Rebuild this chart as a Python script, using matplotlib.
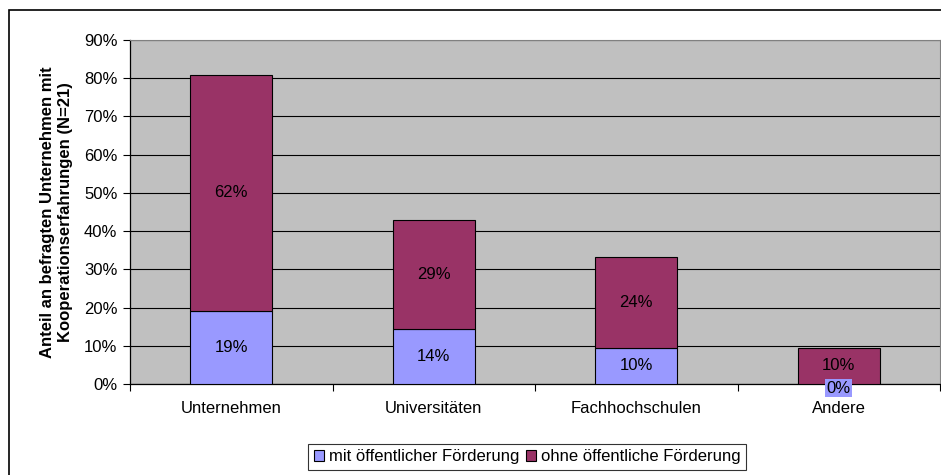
import matplotlib.pyplot as plt
import matplotlib.patches as mpatches
import numpy as np

plt.rcParams['font.family'] = ['Liberation Sans', 'DejaVu Sans']

categories = ['Unternehmen', 'Universitäten', 'Fachhochschulen', 'Andere']
mit_foerderung = [19.05, 14.29, 9.52, 0.0]
ohne_foerderung = [61.90, 28.57, 23.81, 9.52]
series_names = ['mit öffentlicher Förderung', 'ohne öffentliche Förderung']
y_ticks = [0, 10, 20, 30, 40, 50, 60, 70, 80, 90]

col_mit = '#9999FF'
col_ohne = '#993366'
fs = 12

fig = plt.figure(figsize=(9.41, 4.75), dpi=100)
ax = fig.add_axes([130 / 941, 1 - 384 / 475, 810 / 941, 344 / 475])
ax.set_facecolor('#C0C0C0')

x = np.arange(len(categories))
b1 = ax.bar(x, mit_foerderung, 0.405, color=col_mit, edgecolor='black', linewidth=0.8,
            label=series_names[0], zorder=3)
b2 = ax.bar(x, ohne_foerderung, 0.405, bottom=mit_foerderung, color=col_ohne,
            edgecolor='black', linewidth=0.8, label=series_names[1], zorder=3)

# value labels in the middle of each segment
for i in range(len(categories)):
    lo = mit_foerderung[i]
    hi = ohne_foerderung[i]
    if lo > 0:
        ax.text(x[i], lo / 2, f'{lo:.0f}%', ha='center', va='center', fontsize=fs, zorder=4)
    else:
        # zero value: label sits on the baseline with a filled box, like Excel
        ax.annotate(f'{lo:.0f}%', (x[i], lo), xytext=(0, -3), textcoords='offset points',
                    ha='center', va='center', fontsize=fs, zorder=4, annotation_clip=False,
                    bbox=dict(facecolor=col_mit, edgecolor='none', pad=1.0))
    ax.text(x[i], lo + hi / 2, f'{hi:.0f}%', ha='center', va='center', fontsize=fs, zorder=4)

ax.set_xlim(-0.5, len(categories) - 0.5)
ax.set_ylim(0, 90)
ax.set_yticks(y_ticks)
ax.set_yticklabels([f'{t}%' for t in y_ticks], fontsize=fs)
ax.yaxis.grid(True, color='black', linewidth=0.8, zorder=0)
ax.set_axisbelow(True)

ax.set_xticks(x)
ax.set_xticklabels(categories, fontsize=fs)
ax.set_xticks(np.arange(-0.5, len(categories)), minor=True)
ax.tick_params(axis='x', which='major', length=0, pad=12)
ax.tick_params(axis='x', which='minor', length=5, width=0.8, direction='out')
ax.tick_params(axis='y', length=5, width=0.8, direction='out', pad=4)

for s in ['top', 'right']:
    ax.spines[s].set_color('#808080')
for s in ['left', 'bottom']:
    ax.spines[s].set_color('black')
    ax.spines[s].set_linewidth(0.9)

ax.set_ylabel('Anteil an befragten Unternehmen mit\nKooperationserfahrungen (N=21)',
              fontsize=fs, fontweight='bold', labelpad=8)

leg = fig.legend(handles=[b1, b2], loc='center', bbox_to_anchor=(527 / 941, 1 - 457 / 475),
                 ncol=2, fontsize=fs, frameon=True, fancybox=False, handlelength=0.6,
                 handleheight=0.6, handletextpad=0.3, columnspacing=0.4, borderpad=0.35)
leg.get_frame().set_edgecolor('black')
leg.get_frame().set_linewidth(0.8)

# outer chart border
fig.patches.append(mpatches.Rectangle((9 / 941, -0.05), 1.1, 1 - 10 / 475 + 0.05,
                                      transform=fig.transFigure, fill=False,
                                      edgecolor='black', linewidth=1.2))

fig.savefig('out.png', dpi=100)
